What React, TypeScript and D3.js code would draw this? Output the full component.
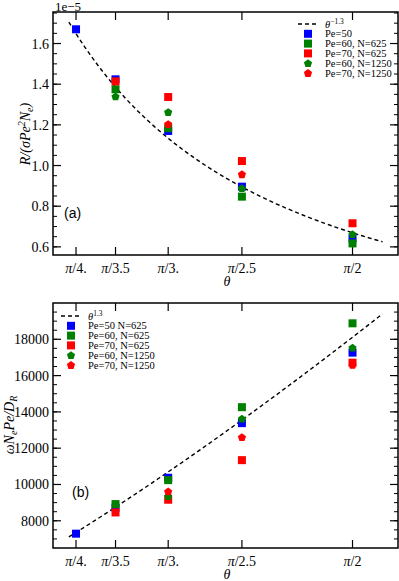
import React from "react";
import * as d3 from "d3";

// angles on the x axis and their labels (pi / divisor)
const thetaValues = [Math.PI / 4, Math.PI / 3.5, Math.PI / 3, Math.PI / 2.5, Math.PI / 2];
const thetaLabels = ["4.", "3.5", "3.", "2.5", "2"];

// panel (a): R/(sigma Pe^2 Ne), units of 1e-5
const aPe50 = [1.67, 1.424, 1.17, 0.896, 0.642];
const aPe60N625 = [null, 1.375, 1.184, 0.847, 0.617];
const aPe70N625 = [null, 1.414, 1.337, 1.022, 0.716];
const aPe60N1250 = [null, 1.34, 1.263, 0.889, 0.663];
const aPe70N1250 = [null, null, 1.204, 0.957, null];

// panel (b): omega Ne Pe / D_R
const bPe50 = [7290, 8720, 10370, 13380, 17265];
const bPe60N625 = [null, 8920, 10240, 14260, 18880];
const bPe70N625 = [null, 8460, 9160, 11340, 16710];
const bPe60N1250 = [null, null, 9360, 13630, 17540];
const bPe70N1250 = [null, null, 9620, 12610, 16590];

// power law guides
const fitA = { coef: 1.204, power: -1.3 };
const fitB = { coef: 10070, power: 1.3 };
const fitRange = [0.765, 1.656];

const BLUE = "#0000ff";
const GREEN = "#008000";
const RED = "#ff0000";
const serif = "'Liberation Serif', 'DejaVu Serif', serif";

type Series = { name: string; vals: (number | null)[]; color: string; shape: "square" | "pentagon" };

const seriesA: Series[] = [
  { name: "Pe=50", vals: aPe50, color: BLUE, shape: "square" },
  { name: "Pe=60, N=625", vals: aPe60N625, color: GREEN, shape: "square" },
  { name: "Pe=70, N=625", vals: aPe70N625, color: RED, shape: "square" },
  { name: "Pe=60, N=1250", vals: aPe60N1250, color: GREEN, shape: "pentagon" },
  { name: "Pe=70, N=1250", vals: aPe70N1250, color: RED, shape: "pentagon" },
];
const seriesB: Series[] = [
  { name: "Pe=50 N=625", vals: bPe50, color: BLUE, shape: "square" },
  { name: "Pe=60, N=625", vals: bPe60N625, color: GREEN, shape: "square" },
  { name: "Pe=70, N=625", vals: bPe70N625, color: RED, shape: "square" },
  { name: "Pe=60, N=1250", vals: bPe60N1250, color: GREEN, shape: "pentagon" },
  { name: "Pe=70, N=1250", vals: bPe70N1250, color: RED, shape: "pentagon" },
];

const pentagon = (cx: number, cy: number, r: number) =>
  d3.range(5).map((i) => {
    const a = -Math.PI / 2 + (i * 2 * Math.PI) / 5;
    return [cx + r * Math.cos(a), cy + r * Math.sin(a)].join(",");
  }).join(" ");

const Marker = ({ x, y, s }: { x: number; y: number; s: Series }) =>
  s.shape === "square" ? (
    <rect x={x - 4} y={y - 4} width={8} height={8} fill={s.color} />
  ) : (
    <polygon points={pentagon(x, y + 0.4, 4.3)} fill={s.color} />
  );

const x = d3.scaleLinear().domain([0.72, 1.7]).range([53, 398]);

function Panel(props: {
  top: number;
  bottom: number;
  domain: [number, number];
  major: number[];
  minor: number[];
  fmt: (v: number) => string;
  series: Series[];
  fit: { coef: number; power: number };
}) {
  const { top, bottom, domain, major, minor, fmt, series, fit } = props;
  const y = d3.scaleLinear().domain(domain).range([bottom, top]);
  const [x0, x1] = x.range();
  const line = d3
    .line<number>()
    .x((t) => x(t))
    .y((t) => y(fit.coef * Math.pow(t, fit.power)));
  const curve = d3.range(60).map((i) => fitRange[0] + ((fitRange[1] - fitRange[0]) * i) / 59);

  return (
    <g>
      {minor.map((v) => (
        <g key={"m" + v}>
          <line x1={x0} x2={x0 + 4} y1={y(v)} y2={y(v)} stroke="#000" />
          <line x1={x1 - 4} x2={x1} y1={y(v)} y2={y(v)} stroke="#000" />
        </g>
      ))}
      {major.map((v) => (
        <g key={"M" + v}>
          <line x1={x0} x2={x0 + 8} y1={y(v)} y2={y(v)} stroke="#000" strokeWidth={1.2} />
          <line x1={x1 - 8} x2={x1} y1={y(v)} y2={y(v)} stroke="#000" strokeWidth={1.2} />
          <text x={49} y={y(v) + 5} textAnchor="end" fontSize={14} fontFamily={serif}>
            {fmt(v)}
          </text>
        </g>
      ))}
      {thetaValues.map((t, i) => (
        <g key={"x" + i}>
          <line x1={x(t)} x2={x(t)} y1={bottom} y2={bottom - 8} stroke="#000" strokeWidth={1.2} />
          <line x1={x(t)} x2={x(t)} y1={top} y2={top + 8} stroke="#000" strokeWidth={1.2} />
          <text x={x(t)} y={bottom + 18} textAnchor="middle" fontSize={14} fontFamily={serif}>
            <tspan fontStyle="italic">π</tspan>/{thetaLabels[i]}
          </text>
        </g>
      ))}
      <text x={227} y={bottom + 31} textAnchor="middle" fontSize={14} fontStyle="italic" fontFamily={serif}>
        θ
      </text>
      <path d={line(curve) || ""} fill="none" stroke="#000" strokeWidth={1.4} strokeDasharray="4,3" />
      {series.map((s) =>
        s.vals.map((v, i) =>
          v == null ? null : <Marker key={s.name + i} x={x(thetaValues[i])} y={y(v)} s={s} />
        )
      )}
      <rect x={x0} y={top} width={x1 - x0} height={bottom - top} fill="none" stroke="#000" strokeWidth={1.5} />
    </g>
  );
}

function Legend({ lx, ly, label, series }: { lx: number; ly: number; label: React.ReactNode; series: Series[] }) {
  // lx = symbol centre, ly = first row centre (dash row)
  return (
    <g fontFamily={serif} fontSize={10.5}>
      <line x1={lx - 10} x2={lx + 10} y1={ly} y2={ly} stroke="#000" strokeWidth={1.4} strokeDasharray="4,3" />
      <text x={lx + 17} y={ly + 3.5}>{label}</text>
      {series.map((s, i) => {
        const cy = ly + 9.8 * (i + 1);
        return (
          <g key={s.name}>
            <Marker x={lx} y={cy} s={s} />
            <text x={lx + 17} y={cy + 3.5}>{s.name}</text>
          </g>
        );
      })}
    </g>
  );
}

export default function App() {
  const majorA = [0.6, 0.8, 1.0, 1.2, 1.4, 1.6];
  const minorA = d3.range(12, 36).map((k) => k * 0.05).filter((v) => v > 0.56 && v < 1.755);
  const majorB = [8000, 10000, 12000, 14000, 16000, 18000];
  const minorB = d3.range(13, 40).map((k) => k * 500);

  return (
    <svg
      width={399}
      height={581}
      style={{ position: "absolute", left: 0, top: 0, background: "#fff" }}
    >
      <Panel
        top={12}
        bottom={255}
        domain={[0.56, 1.755]}
        major={majorA}
        minor={minorA}
        fmt={(v) => d3.format(".1f")(v)}
        series={seriesA}
        fit={fitA}
      />
      <text x={55} y={10.5} fontSize={13} fontFamily={serif}>1e−5</text>
      <text x={64} y={218} fontSize={14} fontFamily="'Liberation Sans', Arial, sans-serif">(a)</text>
      <text transform="translate(30,134) rotate(-90)" textAnchor="middle" fontSize={14} fontFamily={serif} fontStyle="italic">
        R/(σPe<tspan fontSize={10} dy={-5}>2</tspan>
        <tspan dy={5}>N</tspan>
        <tspan fontSize={10} dy={3}>e</tspan>
        <tspan dy={-3}>)</tspan>
      </text>
      <Legend
        lx={308}
        ly={24}
        series={seriesA}
        label={
          <>
            <tspan fontStyle="italic">θ</tspan>
            <tspan fontSize={7.5} dy={-4}>−1.3</tspan>
          </>
        }
      />

      <Panel
        top={303}
        bottom={548}
        domain={[6500, 20000]}
        major={majorB}
        minor={minorB.filter((v) => v > 6500 && v < 20000)}
        fmt={(v) => String(v)}
        series={seriesB}
        fit={fitB}
      />
      <text x={72} y={497} fontSize={14} fontFamily="'Liberation Sans', Arial, sans-serif">(b)</text>
      <text transform="translate(14,425) rotate(-90)" textAnchor="middle" fontSize={14} fontFamily={serif} fontStyle="italic">
        ωN<tspan fontSize={10} dy={3}>e</tspan>
        <tspan dy={-3}>Pe/D</tspan>
        <tspan fontSize={10} dy={3}>R</tspan>
      </text>
      <Legend
        lx={71}
        ly={316}
        series={seriesB}
        label={
          <>
            <tspan fontStyle="italic">θ</tspan>
            <tspan fontSize={7.5} dy={-4}>1.3</tspan>
          </>
        }
      />
    </svg>
  );
}
